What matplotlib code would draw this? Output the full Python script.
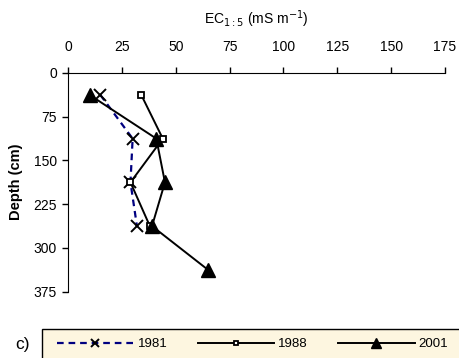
import numpy as np
import matplotlib
matplotlib.use("Agg")
import matplotlib.pyplot as plt
from matplotlib.patches import Rectangle

plt.rcParams['font.family'] = ['Liberation Sans', 'DejaVu Sans']

#===========================================
# data: EC1:5 (mS/m) by depth (cm), midpoints of 75 cm layers
depth = [37.5, 112.5, 187.5, 262.5, 337.5]
ec_1981 = [15, 30, 29, 32]
ec_1988 = [34, 44, 29, 38]
ec_2001 = [10, 41, 45, 39, 65]
years = ['1981', '1988', '2001']
x_ticks = [0, 25, 50, 75, 100, 125, 150, 175]
y_ticks = [0, 75, 150, 225, 300, 375]
#===========================================

fig = plt.figure(figsize=(4.59, 3.58), dpi=100)
ax = fig.add_axes([68/459, 1 - 291.7/358, (445 - 68)/459, (291.7 - 73)/358])

l1, = ax.plot(ec_1981, depth[:len(ec_1981)], color='navy', ls=(0, (3, 2.2)), lw=1.6,
              marker='x', ms=9, mec='black', mew=1.4, label=years[0])
l2, = ax.plot(ec_1988, depth[:len(ec_1988)], color='black', lw=1.4,
              marker='s', ms=4.5, mfc='white', mec='black', mew=1.3, label=years[1])
l3, = ax.plot(ec_2001, depth[:len(ec_2001)], color='black', lw=1.4,
              marker='^', ms=10, mfc='black', mec='black', label=years[2])

ax.set_xlim(0, 175)
ax.set_ylim(375, 0)
ax.set_xticks(x_ticks)
ax.set_yticks(y_ticks)
ax.xaxis.tick_top()
ax.xaxis.set_label_position('top')
ax.spines['right'].set_visible(False)
ax.spines['bottom'].set_visible(False)
ax.tick_params(axis='both', direction='out', length=4, width=1, labelsize=10, pad=10)
ax.tick_params(axis='y', pad=4)
ax.set_xlabel(r'EC$_{1:5}$ (mS m$^{-1}$)', fontsize=10, labelpad=11)
fig.text(16/459, 1 - 182/358, 'Depth (cm)', rotation=90, fontsize=10.5, fontweight='bold',
         ha='center', va='center')

# legend box
fig.patches.append(Rectangle((42/459, -0.05), 0.95, 1 - 329/358 + 0.05,
                             transform=fig.transFigure, facecolor='#fdf6e0',
                             edgecolor='black', lw=1))
fig.text(22/459, 1 - 344/358, 'c)', fontsize=12.5, ha='center', va='center')
fig.legend(handles=[l1, l2, l3], loc='center left', bbox_to_anchor=(57/459, 1 - 344/358),
           ncol=3, frameon=False, fontsize=9.5, handlelength=5.8, handletextpad=0.3,
           columnspacing=2.3, markerscale=0.65, borderaxespad=0, borderpad=0)

fig.savefig('out.png', dpi=100)
